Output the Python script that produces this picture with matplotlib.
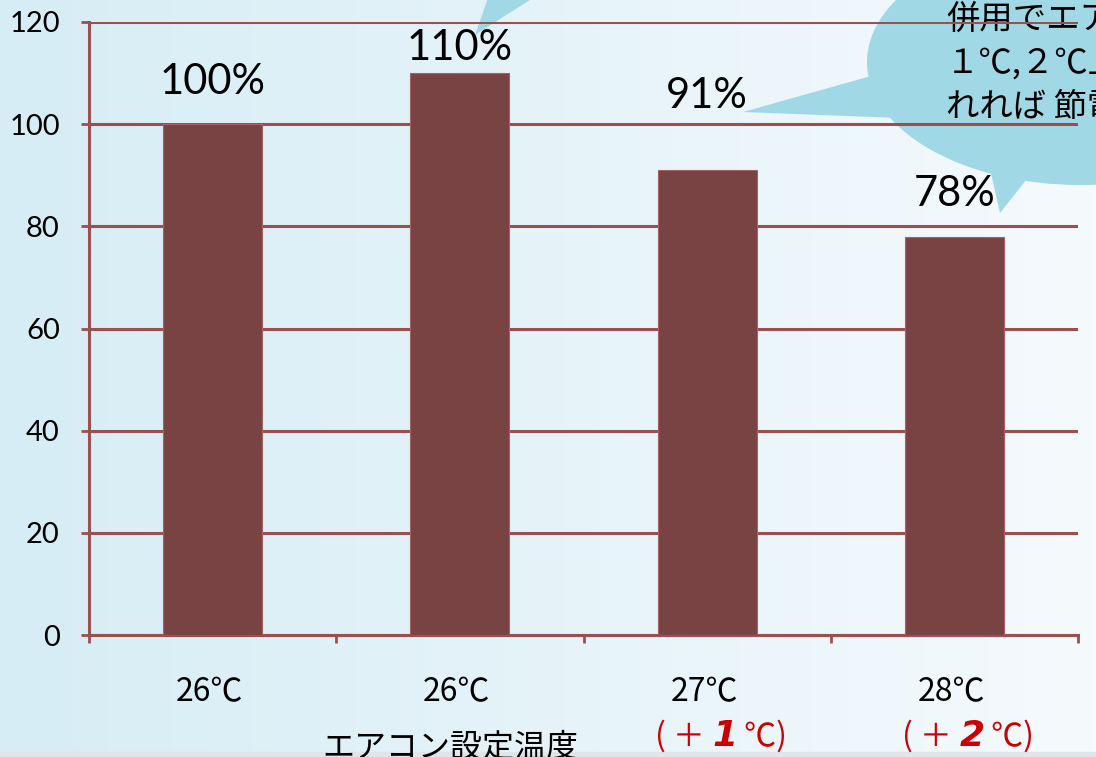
import matplotlib
matplotlib.use('Agg')
import matplotlib.pyplot as plt
import numpy as np
from matplotlib.patches import Ellipse, Polygon, Rectangle

# ── DATA ──────────────────────────────────────────────────────────────────────
categories  = ["26℃", "26℃", "27℃", "28℃"]
values      = [100, 110, 91, 78]
bar_labels  = ["100%", "110%", "91%", "78%"]
label_y     = [108.3, 114.9, 105.5, 86.3]   # where the % labels sit (data units)
delta_nums  = [None, None, "1", "2"]         # red (+N℃) under the last two
yticks      = [0, 20, 40, 60, 80, 100, 120]
xlabel      = "エアコン設定温度"
bubble_text = ["併用でエアコン設定温度を", "１℃,２℃上げら", "れれば 節電効果"]

# ── STYLE ─────────────────────────────────────────────────────────────────────
BAR   = '#7a4343'
GRID  = '#9b4f4f'
RED   = '#cc0000'
BUB   = '#a0d8e5'
JP    = ['Noto Sans CJK JP', 'DejaVu Sans']
NUM   = ['Lato', 'DejaVu Sans']

W, H = 1096, 757
fig = plt.figure(figsize=(W / 100, H / 100), dpi=100)

# background gradient + speech bubbles (pixel coords)
bg = fig.add_axes([0, 0, 1, 1])
bg.set_xlim(0, W)
bg.set_ylim(H, 0)
bg.axis('off')
c0 = np.array([0xd6, 0xed, 0xf5]) / 255
c1 = np.array([0xf5, 0xfa, 0xfd]) / 255
grad = np.linspace(0, 1, 256)[None, :, None]
img = c0 + (c1 - c0) * grad
bg.imshow(img, extent=[0, W, H, 0], aspect='auto', zorder=0)
bg.add_patch(Rectangle((0, H - 5), W, 5, color='#dfe6e9', zorder=1))

bg.add_patch(Ellipse((1080, 62), 426, 246, color=BUB, zorder=2, lw=0))
bg.add_patch(Polygon([(878, 74), (743, 112), (900, 118)], color=BUB, zorder=2, lw=0))
bg.add_patch(Polygon([(988, 160), (1000, 213), (1038, 165)], color=BUB, zorder=2, lw=0))
bg.add_patch(Polygon([(488, -2), (475, 35), (533, -2)], color=BUB, zorder=2, lw=0))
for k, line in enumerate(bubble_text):
    bg.text(946, 19 + k * 44, line, fontsize=24, family=JP, ha='left', va='center',
            color='black', zorder=3)

# ── MAIN AXES ─────────────────────────────────────────────────────────────────
ax = fig.add_axes([89 / W, 1 - 635 / H, (1078 - 89) / W, (635 - 22) / H])
ax.patch.set_alpha(0)
ax.set_xlim(0, len(categories))
ax.set_ylim(0, 120)

x = np.arange(len(categories)) + 0.5
ax.bar(x, values, width=0.4, color=BAR, edgecolor='#a86060', linewidth=0.8, zorder=3)

ax.set_yticks(yticks)
ax.yaxis.grid(True, color=GRID, linewidth=2.2, zorder=1)
ax.set_axisbelow(True)
ax.tick_params(axis='y', length=6, width=2, color=GRID, pad=15, labelsize=21)
for t in ax.get_yticklabels():
    t.set_family(NUM)

ax.set_xticks(np.arange(len(categories) + 1))
ax.set_xticklabels([])
ax.tick_params(axis='x', length=6, width=2, color=GRID)

for s in ['top', 'right']:
    ax.spines[s].set_visible(False)
ax.spines['left'].set_color(GRID)
ax.spines['left'].set_linewidth(2.2)
ax.spines['bottom'].set_color(GRID)
ax.spines['bottom'].set_linewidth(2.2)

for xi, lab, ly in zip(x, bar_labels, label_y):
    ax.text(xi, ly, lab, ha='center', va='center', fontsize=30, family=NUM, zorder=4)

for xi, cat, dn in zip(x, categories, delta_nums):
    ax.annotate(cat, xy=(xi, 0), xytext=(-3, -57), textcoords='offset pixels',
                ha='center', va='center', fontsize=23, family=JP, annotation_clip=False)
    if dn is not None:
        t1 = ax.annotate("( ＋ ", xy=(xi, 0), xytext=(-52, -101), textcoords='offset pixels',
                         ha='left', va='center', fontsize=23, family=JP, color=RED,
                         annotation_clip=False)
        t2 = ax.annotate(dn, xy=(1, 0.5), xycoords=t1, ha='left', va='center',
                         fontsize=26, family=['DejaVu Sans'], fontweight='bold',
                         style='italic', color=RED, annotation_clip=False)
        ax.annotate(" ℃)", xy=(1, 0.5), xycoords=t2, ha='left', va='center',
                    fontsize=23, family=JP, color=RED, annotation_clip=False)

ax.annotate(xlabel, xy=(1.5, 0), xytext=(-10, -112), textcoords='offset pixels',
            ha='center', va='center', fontsize=23, family=JP, annotation_clip=False)

plt.savefig("out.png", dpi=100)
